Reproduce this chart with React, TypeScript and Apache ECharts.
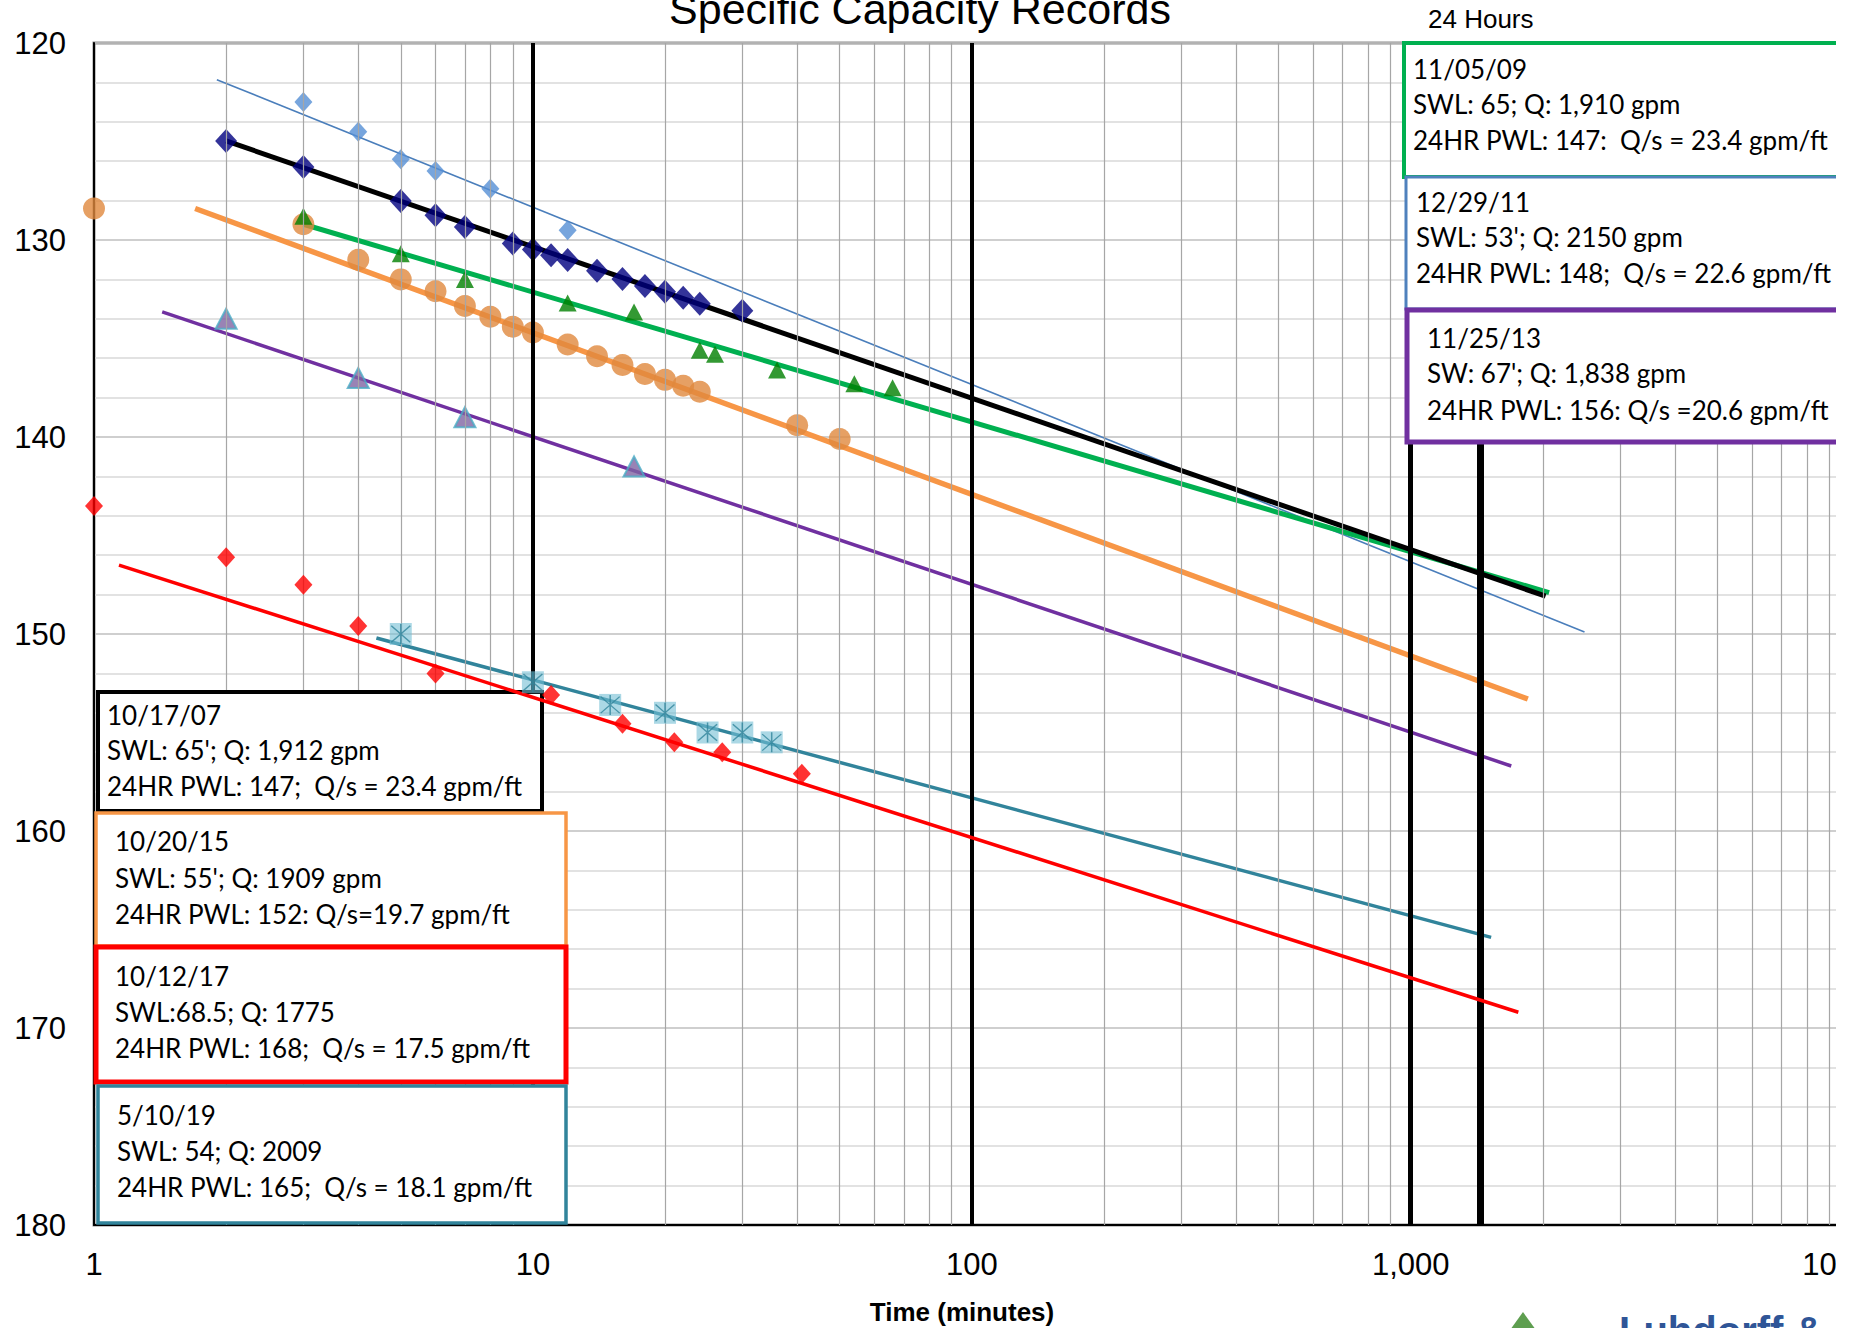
import React, { useEffect, useRef } from "react";
import * as echarts from "echarts";

// ---------- data ----------
const xTickValues = [1, 10, 100, 1000, 10000];
const xTickLabels = ["1", "10", "100", "1,000", "10,000"];
const yTickLabels = ["120", "130", "140", "150", "160", "170", "180"];
const refLines = [10, 100, 1000, 1440];

// 10/17/07 (navy diamonds, black fit)
const t2007 = [2, 3, 5, 6, 7, 9, 10, 11, 12, 14, 16, 18, 20, 22, 24, 30];
const d2007 = [124.97, 126.29, 128.02, 128.74, 129.34, 130.18, 130.48, 130.78, 131.02, 131.56, 131.98, 132.34, 132.63, 132.93, 133.23, 133.59];
const fitT2007 = [2, 2029];
const fitD2007 = [124.97, 148.08];

// 11/05/09 (green triangles)
const t2009 = [3, 5, 7, 12, 17, 24, 26, 36, 54, 66];
const d2009 = [128.8, 130.7, 132.0, 133.2, 133.65, 135.6, 135.8, 136.6, 137.3, 137.5];
const fitT2009 = [3, 2067];
const fitD2009 = [129.2, 147.9];

// 12/29/11 (light blue diamonds)
const t2011 = [3, 4, 5, 6, 8, 12];
const d2011 = [123.0, 124.5, 125.9, 126.5, 127.4, 129.5];
const fitT2011 = [1.905, 2489];
const fitD2011 = [121.86, 149.9];

// 11/25/13 (purple triangles)
const t2013 = [2, 4, 7, 17];
const d2013 = [134.0, 137.0, 139.0, 141.5];
const fitT2013 = [1.43, 1695];
const fitD2013 = [133.65, 156.7];

// 10/20/15 (orange circles)
const t2015 = [1, 3, 4, 5, 6, 7, 8, 9, 10, 12, 14, 16, 18, 20, 22, 24, 40, 50];
const d2015 = [128.4, 129.2, 131.0, 132.0, 132.6, 133.35, 133.9, 134.4, 134.7, 135.3, 135.9, 136.35, 136.8, 137.1, 137.4, 137.7, 139.4, 140.1];
const fitT2015 = [1.7, 1849];
const fitD2015 = [128.4, 153.3];

// 10/12/17 (red diamonds)
const t2017 = [1, 2, 3, 4, 6, 11, 16, 21, 27, 41];
const d2017 = [143.5, 146.1, 147.5, 149.6, 152.0, 153.1, 154.55, 155.5, 156.0, 157.1];
const fitT2017 = [1.14, 1759];
const fitD2017 = [146.5, 169.2];

// 5/10/19 (teal squares with asterisk)
const t2019 = [5, 10, 15, 20, 25, 30, 35];
const d2019 = [150.0, 152.45, 153.6, 154.0, 155.0, 155.0, 155.5];
const fitT2019 = [4.4, 1525];
const fitD2019 = [150.2, 165.4];

// annotation texts
const note2009 = ["11/05/09", "SWL: 65; Q: 1,910 gpm", "24HR PWL: 147:  Q/s = 23.4 gpm/ft"];
const note2011 = ["12/29/11", "SWL: 53'; Q: 2150 gpm", "24HR PWL: 148;  Q/s = 22.6 gpm/ft"];
const note2013 = ["11/25/13", "SW: 67'; Q: 1,838 gpm", "24HR PWL: 156: Q/s =20.6 gpm/ft"];
const note2007 = ["10/17/07", "SWL: 65'; Q: 1,912 gpm", "24HR PWL: 147;  Q/s = 23.4 gpm/ft"];
const note2015 = ["10/20/15", "SWL: 55'; Q: 1909 gpm", "24HR PWL: 152: Q/s=19.7 gpm/ft"];
const note2017 = ["10/12/17", "SWL:68.5; Q: 1775", "24HR PWL: 168;  Q/s = 17.5 gpm/ft"];
const note2019 = ["5/10/19", "SWL: 54; Q: 2009", "24HR PWL: 165;  Q/s = 18.1 gpm/ft"];

const titleText = "Specific Capacity Records";
const xAxisTitle = "Time (minutes)";
const hoursLabel = "24 Hours";
const logoText = "Luhdorff &";

// ---------- helpers ----------
const zip = (a: number[], b: number[]) => a.map((v, i) => [v, b[i]]);

const ASTERISK =
  "path://M47,4L53,4L53,96L47,96Z M10,14L14,10L90,86L86,90Z M86,10L90,14L14,90L10,86Z";

export default function App() {
  const ref = useRef<HTMLDivElement>(null);

  useEffect(() => {
    if (!ref.current) return;
    const chart = echarts.init(ref.current, null, { renderer: "svg" });

    const minorX: number[] = [];
    for (let dec = 1; dec < 10000; dec *= 10) {
      for (let m = 2; m <= 9; m++) minorX.push(dec * m);
    }

    const boxFont = "Lato, 'Noto Sans', sans-serif";
    const boxSpecs = [
      { lines: note2009, x: 1404, y: 43, w: 520, h: 134, color: "#00B050", lw: 4, tx: 1413, ty: [69, 104, 140] },
      { lines: note2011, x: 1406, y: 177, w: 520, h: 132, color: "#4F81BD", lw: 3, tx: 1416, ty: [202, 237, 273] },
      { lines: note2013, x: 1407, y: 310, w: 520, h: 132, color: "#7030A0", lw: 5, tx: 1427, ty: [338, 373, 410] },
      { lines: note2007, x: 98, y: 692, w: 444, h: 119, color: "#000000", lw: 4, tx: 107, ty: [715, 750, 786] },
      { lines: note2015, x: 96, y: 813, w: 470, h: 133, color: "#F79646", lw: 3.5, tx: 115, ty: [841, 878, 914] },
      { lines: note2017, x: 96, y: 947, w: 470, h: 135, color: "#FF0000", lw: 5, tx: 115, ty: [976, 1012, 1048] },
      { lines: note2019, x: 98, y: 1086, w: 468, h: 137, color: "#31849B", lw: 3.5, tx: 117, ty: [1115, 1151, 1187] },
    ];

    const graphics: any[] = [];
    boxSpecs.forEach((b) => {
      graphics.push({
        type: "rect",
        z: 50,
        shape: { x: b.x, y: b.y, width: b.w, height: b.h },
        style: { fill: "#ffffff", stroke: b.color, lineWidth: b.lw },
      });
      b.lines.forEach((ln, i) => {
        graphics.push({
          type: "text",
          z: 51,
          x: b.tx,
          y: b.ty[i],
          style: { text: ln, fill: "#000", font: `26px ${boxFont}`, verticalAlign: "middle", align: "left" },
        });
      });
    });
    graphics.push({
      type: "text",
      z: 51,
      x: 920,
      y: 9,
      style: { text: titleText, fill: "#000", font: "43px 'Liberation Sans', Arial, sans-serif", align: "center", verticalAlign: "middle" },
    });
    graphics.push({
      type: "text",
      z: 51,
      x: 1428,
      y: 19,
      style: { text: hoursLabel, fill: "#000", font: "26px 'Liberation Sans', Arial, sans-serif", align: "left", verticalAlign: "middle" },
    });
    graphics.push({
      type: "text",
      z: 51,
      x: 962,
      y: 1312,
      style: { text: xAxisTitle, fill: "#000", font: "bold 26px 'Liberation Sans', Arial, sans-serif", align: "center", verticalAlign: "middle" },
    });
    graphics.push({
      type: "polygon",
      z: 51,
      shape: { points: [[1523, 1312], [1541, 1337], [1505, 1337]] },
      style: { fill: "#5E9E50" },
    });
    graphics.push({
      type: "text",
      z: 51,
      x: 1619,
      y: 1311,
      style: { text: logoText, fill: "#2F5597", font: "bold 40px 'Liberation Sans', Arial, sans-serif", align: "left", verticalAlign: "top" },
    });

    const fitLine = (name: string, t: number[], d: number[], color: string, width: number, z = 3) => ({
      name,
      type: "line",
      data: zip(t, d),
      showSymbol: false,
      symbol: "none",
      clip: false,
      z,
      lineStyle: { color, width },
      silent: true,
    });
    const pts = (name: string, t: number[], d: number[], symbol: string, size: any, color: string, extra: any = {}) => ({
      name,
      type: "scatter",
      data: zip(t, d),
      symbol,
      symbolSize: size,
      clip: false,
      z: 4,
      itemStyle: { color, ...extra },
      silent: true,
    });

    const option: any = {
      animation: false,
      backgroundColor: "#ffffff",
      grid: {
        left: 94,
        right: 48,
        top: 43,
        bottom: 103,
        show: true,
        borderColor: "#8C8C8C",
        borderWidth: 3,
        backgroundColor: "transparent",
      },
      xAxis: {
        type: "log",
        logBase: 10,
        min: xTickValues[0],
        max: xTickValues[xTickValues.length - 1],
        axisLine: { show: true, lineStyle: { color: "#000", width: 2 } },
        axisTick: { show: false },
        axisLabel: {
          color: "#000",
          fontSize: 31,
          fontFamily: "'Liberation Sans', Arial, sans-serif",
          margin: 24,
          showMinLabel: true,
          showMaxLabel: true,
          formatter: (v: number) => {
            const i = xTickValues.findIndex((x) => Math.abs(x - v) < 1e-6 * x);
            return i >= 0 ? xTickLabels[i] : "";
          },
        },
        splitLine: { show: true, lineStyle: { color: "#A6A6A6", width: 1.2 } },
      },
      yAxis: {
        type: "value",
        inverse: true,
        min: 120,
        max: 180,
        interval: 10,
        axisLine: { show: true, lineStyle: { color: "#000", width: 2 } },
        axisTick: { show: false },
        minorTick: { show: false, splitNumber: 5 },
        minorSplitLine: { show: true, lineStyle: { color: "#D9D9D9", width: 1.5 } },
        splitLine: { show: true, lineStyle: { color: "#BFBFBF", width: 1.5 } },
        axisLabel: {
          color: "#000",
          fontSize: 31,
          fontFamily: "'Liberation Sans', Arial, sans-serif",
          margin: 28,
          formatter: (v: number) => yTickLabels[Math.round((v - 120) / 10)] ?? "",
        },
      },
      series: [
        {
          name: "grid-minor",
          type: "line",
          data: [],
          silent: true,
          z: 1,
          markLine: {
            silent: true,
            symbol: "none",
            label: { show: false },
            lineStyle: { color: "#A6A6A6", width: 1.2, type: "solid" },
            data: minorX.map((v) => ({ xAxis: v })),
          },
        },
        {
          name: "ref-lines",
          type: "line",
          data: [],
          silent: true,
          z: 2,
          markLine: {
            silent: true,
            symbol: "none",
            label: { show: false },
            data: refLines.map((v, i) => ({
              xAxis: v,
              lineStyle: { color: "#000", width: i === 3 ? 7 : i === 2 ? 5 : 4, type: "solid" },
            })),
          },
        },
        fitLine("fit2011", fitT2011, fitD2011, "#4A7EBB", 1.6),
        fitLine("fit2013", fitT2013, fitD2013, "#7030A0", 3.5),
        fitLine("fit2019", fitT2019, fitD2019, "#31849B", 3.5),
        fitLine("fit2017", fitT2017, fitD2017, "#FF0000", 3.5, 60),
        fitLine("fit2015", fitT2015, fitD2015, "#F79646", 5.5),
        fitLine("fit2009", fitT2009, fitD2009, "#00B050", 5),
        fitLine("fit2007", fitT2007, fitD2007, "#000000", 5),
        pts("2011", t2011, d2011, "diamond", [18, 20], "#558ED5"),
        pts("2013", t2013, d2013, "triangle", [21, 20], "#8064A2", { borderColor: "#4BACC6", borderWidth: 2 }),
        pts("2015", t2015, d2015, "circle", 22, "#E0883D"),
        pts("2009", t2009, d2009, "triangle", [18, 17], "#008000"),
        pts("2007", t2007, d2007, "diamond", [22, 24], "#000080"),
        { ...pts("2017", t2017, d2017, "diamond", [18, 20], "#FF0000"), z: 61 },
        { ...pts("2019sq", t2019, d2019, "rect", 22, "rgba(115,190,212,0.75)"), z: 61 },
        { ...pts("2019ast", t2019, d2019, ASTERISK, 20, "#31849B"), z: 62 },
      ],
      graphic: { elements: graphics },
    };

    chart.setOption(option);
    return () => chart.dispose();
  }, []);

  return (
    <div style={{ position: "absolute", left: 0, top: 0, width: 1850, height: 1328, overflow: "hidden", background: "#fff" }}>
      <div style={{ width: 1836, height: 1328, overflow: "hidden" }}>
        <div ref={ref} style={{ width: 1900, height: 1328 }} />
      </div>
    </div>
  );
}
